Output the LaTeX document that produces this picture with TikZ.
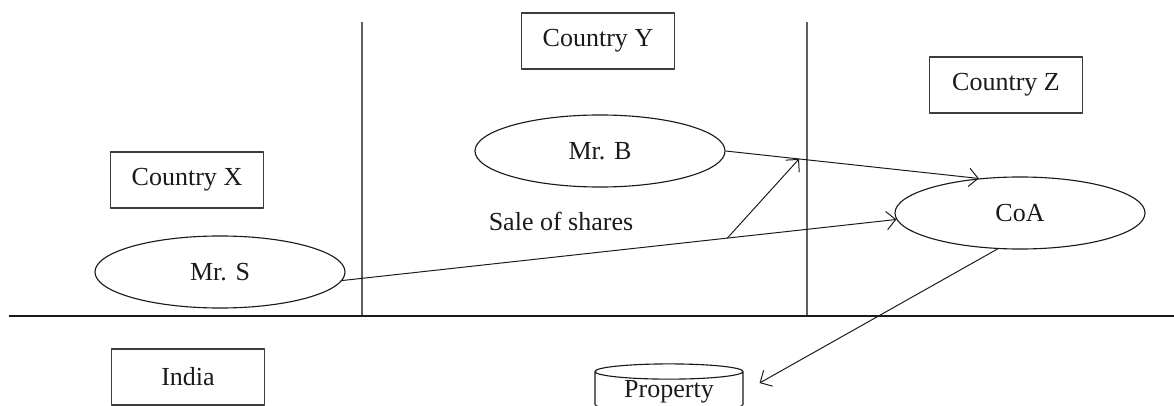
\documentclass[tikz,border=0pt]{standalone}
\usepackage{fontspec}
\setmainfont{Liberation Serif}
\usetikzlibrary{
  arrows.meta,
  calc,
  shapes.geometric
}
\definecolor{ink}{HTML}{1A1A1A}
\tikzset{
  >={Straight Barb[length=6.5pt,width=13pt]},
  every picture/.style={line join=round},
  every node/.style={font=\fontsize{18.5}{22}\selectfont, text=ink},
  box/.style={
    draw=ink!85,
    line width=0.8pt,
    minimum width=3.825cm,
    minimum height=1.4cm,
    inner sep=0pt
  },
  party/.style={ellipse, draw=ink, line width=0.8pt, minimum width=6.25cm, minimum height=1.8cm, inner sep=0pt},
  asset/.style={cylinder, shape border rotate=90, aspect=0.17, draw=ink, line width=0.8pt, minimum width=3.7cm, minimum height=1.2cm, inner sep=0pt},
  arrow/.style={->, line width=0.7pt, draw=ink},
  border/.style={line width=0.9pt, draw=ink!70},
  ground/.style={line width=1.2pt, draw=ink},
  annot/.style={inner sep=0pt}
}
\begin{document}
\begin{tikzpicture}[x=0.025cm, y=-0.025cm]
  \useasboundingbox (0,0) rectangle (1174,406);

  % Borders between the countries
  \draw[border] (362,22) -- (362,316);
  \draw[border] (807,22) -- (807,316);
  \draw[ground] (9,316) -- (1174,316);

  \node[box] (cx) at (187,180) {Country X};
  \node[box] (cy) at (598,41) {Country Y};
  \node[box] (cz) at (1006,85) {Country Z};
  \node[box] (india) at (188,377) {India};

  \node[party] (mrs) at (220,272) {Mr. S};
  \node[party] (mrb) at (600,151) {Mr. B};
  \node[party] (coa) at (1020,213) {CoA};
  \node[asset] (prop) at (669,392) {Property};

  \node[annot] (sale) at (561,221) {Sale of shares};

  \draw[arrow] (mrs.-4) -- (coa.183);
  \draw[arrow] (mrb.east) -- (coa.140);

  % Sale of shares: from the S line up to the B line
  \coordinate (salefrom) at ($(mrs.-4)!0.695!(coa.183)$);
  \coordinate (saleto) at ($(mrb.east)!0.29!(coa.140)$);
  \draw[arrow] (salefrom) -- (saleto);

  \draw[arrow, shorten >=13pt] (coa.238) -- (prop.east);
\end{tikzpicture}
\end{document}
